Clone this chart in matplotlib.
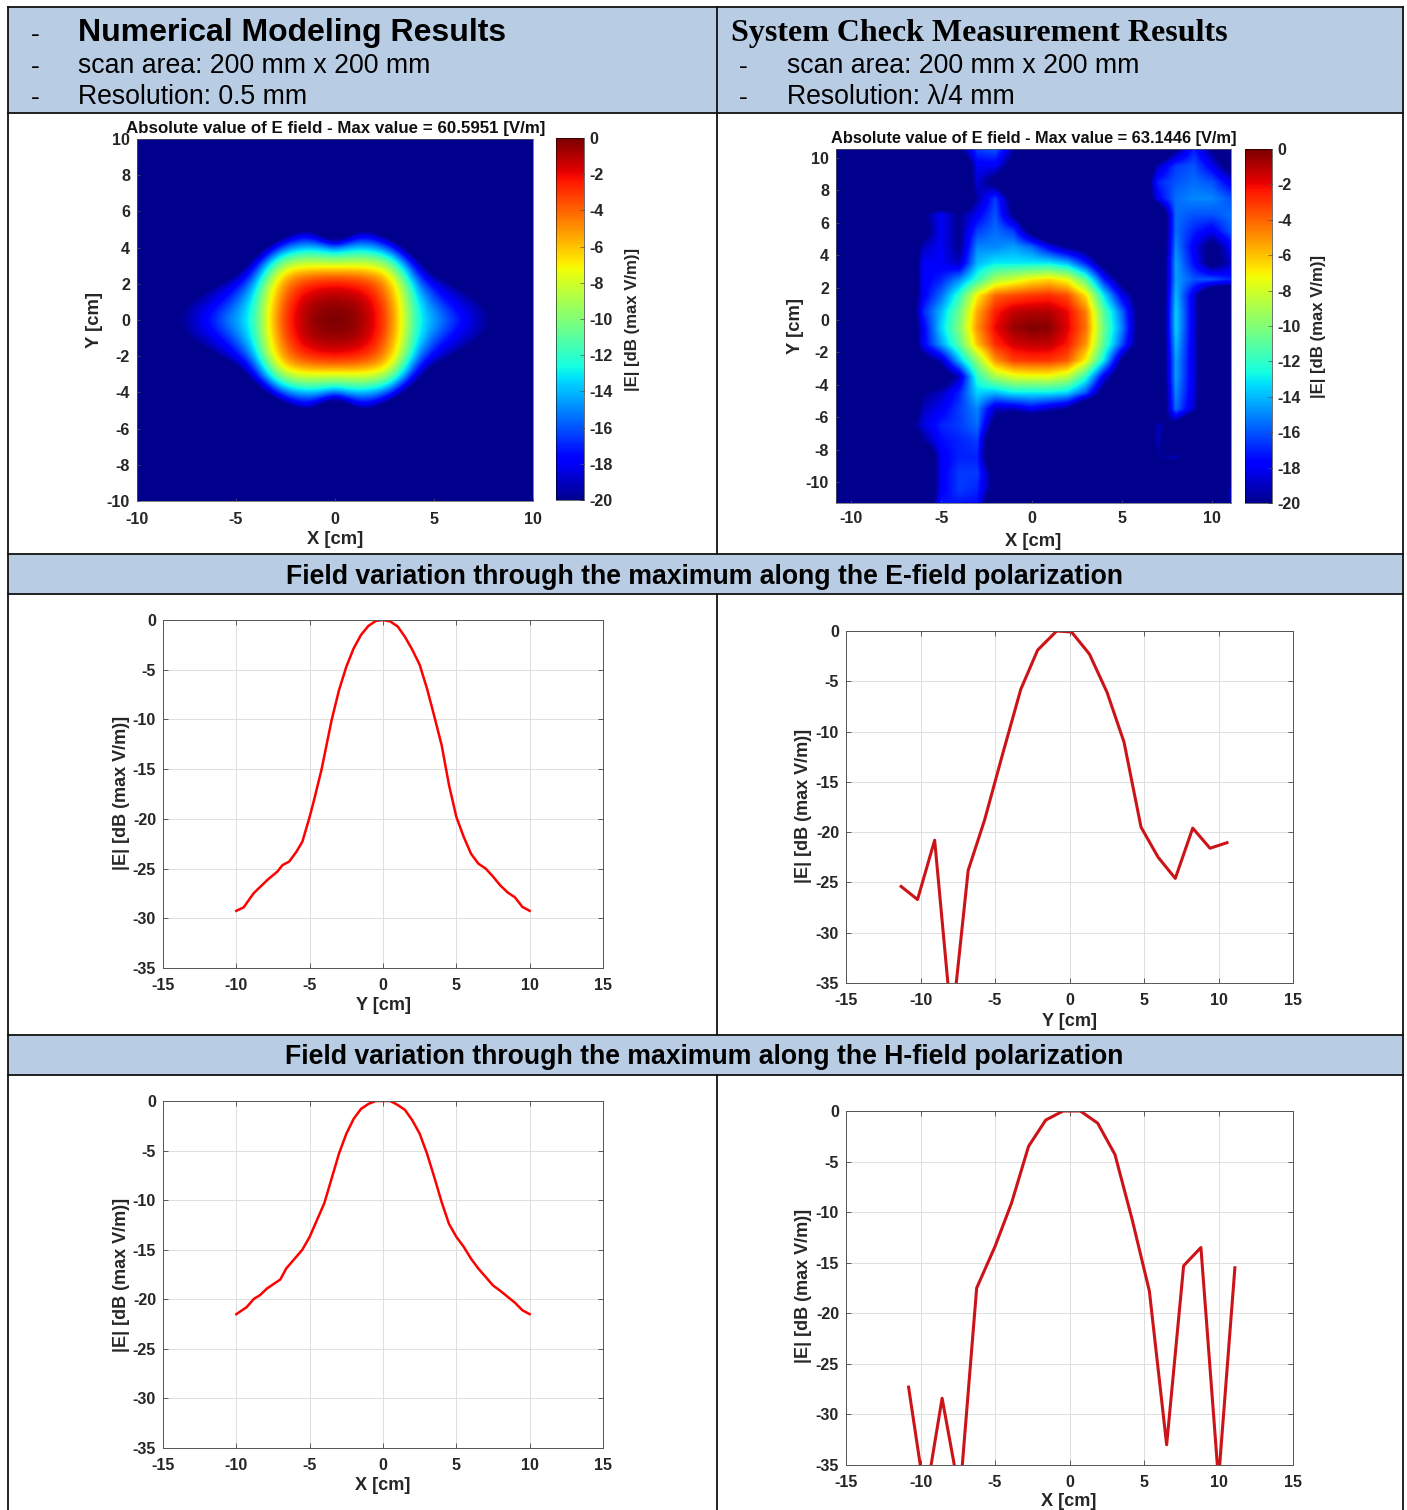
import numpy as np
import matplotlib
matplotlib.use('Agg')
from matplotlib import pyplot as plt
from matplotlib.colors import ListedColormap
from matplotlib.patches import Rectangle

W, H = 1407, 1510
plt.rcParams['font.family'] = ['Liberation Sans', 'DejaVu Sans']
plt.rcParams['axes.unicode_minus'] = False

# level under the colour scale
B = -24

# numerical map, one quadrant, 0.5 cm steps, x = 0..9 (rows padded with B), y = 0..5
model_quadrant = [
    [0, -.2, -.4, -1, -1.9, -3.2, -5.4, -8, -11.5, -13.3, -14.5, -15.5, -16.7, -17.6, -18.6, -19.4, -20, -22],
    [-.2, -.3, -.5, -1.1, -2, -3.3, -5.5, -8.1, -11.6, -13.5, -14.9, -16, -17.1, -18, -18.9, -19.7, -20.3, -23],
    [-.6, -.7, -.9, -1.4, -2.3, -3.7, -5.8, -8.5, -12, -14.1, -15.7, -16.9, -18, -18.8, -19.3, -20, -21.5],
    [-1.3, -1.4, -1.6, -2.1, -2.9, -4.3, -6.3, -9, -12.7, -15, -16.7, -18, -18.8, -19.5, -20.5, -23],
    [-2.4, -2.5, -2.7, -3.1, -3.8, -5, -7, -10, -13.8, -16.3, -18, -19, -20, -21.5],
    [-4.4, -4.4, -4.6, -4.9, -5.4, -6.4, -8.6, -12, -15.5, -18, -20, -21],
    [-7.5, -7.5, -7.5, -7.5, -7.9, -8.8, -11, -14, -17.3, -20, -22],
    [-11, -10.8, -10.5, -10.5, -11, -12, -14, -17, -20, -22],
    [-15.5, -14.5, -14, -14, -14.5, -15.5, -17.5, -20, -22],
    [-21, -19.5, -17.5, -17, -17.5, -19, -21, -23],
    [B, -23, -21, -20, -21, -23],
]

# measured map, 1 cm steps, x = -11..11, y = 10.5 .. -11.5
meas_map = [
    [B, B, B, B, B, B, B, -20.5, -16.5, -16, -19.5, B, B, B, B, B, B, B, B, -20, -17, -20, B],
    [B, B, B, B, B, B, B, B, -18, -18, -21, B, B, B, B, B, B, B, -19, -16.5, -16, -18, -21],
    [B, B, B, B, B, B, B, B, -18.5, -21, B, B, B, B, B, B, B, B, -17, -16, -15.5, -16, -18],
    [B, B, B, B, B, B, B, B, -19.5, -16.5, -21, B, B, B, B, B, B, B, -18, -15.5, -15, -15, -16],
    [B, B, B, B, B, -20, -18, -20, -18, -16, -20, B, B, B, B, B, B, B, B, -15.5, -16, -16, -15.5],
    [B, B, B, B, B, -21, -18, -20, -16.5, -15.5, -16.5, -21, B, B, B, B, B, B, B, -15.5, -17, -18, -16],
    [B, B, B, B, B, -19, -18, -20, -15, -15, -14.5, -15.5, -18, -20, -21, B, B, B, B, -15, -18, -21, -18],
    [B, B, B, B, B, -18, -18, -19, -14, -13, -13, -13, -13, -14, -17, -21, B, B, B, -14.5, -17.5, -21, -19],
    [B, B, B, B, B, -18, -17, -15, -12, -9, -8, -7, -6.5, -7.5, -11, -17, -21, B, B, -14.5, -16, -16, -17],
    [B, B, B, B, B, -18, -15.5, -12, -7, -4, -3.4, -3, -2.8, -3.5, -6.5, -13, -18, -21, B, -14, -18.5, B, B],
    [B, B, B, B, B, -17, -14, -10.5, -5.5, -2.5, -1.2, -1, -1, -2, -4.5, -11, -15.5, -21, B, -13.5, -18.5, B, B],
    [B, B, B, B, B, -18, -13.5, -10, -5, -2, -.6, -.1, -.3, -1.8, -4.2, -10.5, -15, -21, B, -13.5, -18.5, B, B],
    [B, B, B, B, B, -18, -14.5, -11, -6, -2.8, -1.6, -1.2, -1.3, -2.4, -5, -11, -16, -21, B, -14, -18.5, B, B],
    [B, B, B, B, B, -21, -19, -14, -9.5, -5, -3.2, -3, -3, -3.8, -7, -13, -20, B, B, -14.5, -18.5, B, B],
    [B, B, B, B, B, B, -22, -19, -12, -9, -7.8, -7.5, -7.5, -8.5, -12, -18, -22, B, B, -14.5, -18.5, B, B],
    [B, B, B, B, B, -20, -19, -17, -13.5, -14, -13, -13, -13, -13.5, -16, -21, B, B, B, -15, -18.5, B, B],
    [B, B, B, B, B, -19, -18, -16.5, -15, -19, -19, -18, -19, -20, B, B, B, B, B, -15.5, -19, B, B],
    [B, B, B, B, -21, -18.5, -17, -16.5, -15.5, -21, B, B, B, B, B, B, B, B, -19, -21, B, B, B],
    [B, B, B, B, B, -20, -17.5, -17, -16.5, B, B, B, B, B, B, B, B, B, -19, B, B, B, B],
    [B, B, B, B, B, B, -18, -17, -17, B, B, B, B, B, B, B, B, B, -20, -19, B, B, B],
    [B, B, B, B, B, B, -18, -16.5, -16.5, -21, B, -20, B, B, B, B, B, B, B, B, -20, B, B],
    [B, B, B, B, B, B, -18, -16.5, -17, -21, B, B, B, B, B, B, B, B, B, B, B, B, -19],
    [B, B, B, B, B, B, -17, -17.5, -17.5, B, B, B, B, B, B, B, B, B, B, B, B, B, -20],
]

# cuts through the maximum
model_e_x = [-10, -9.5, -9, -8.8, -7.85, -7.2, -6.85, -6.4, -5.9, -5.5, -5, -4.7, -4.2, -3.5, -3, -2.5, -2, -1.5, -1, -.5, 0,
             .5, 1, 1.5, 2, 2.5, 3, 3.5, 4, 4.5, 5, 5.5, 6, 6.5, 7, 7.5, 8, 8.5, 9, 9.5, 10]
model_e_y = [-29.25, -28.9, -27.85, -27.45, -26.1, -25.3, -24.65, -24.3, -23.3, -22.3, -19.8, -18.1, -15.1, -10.05, -7.05, -4.7, -2.85, -1.5, -.6, -.1, 0,
             -.15, -.65, -1.7, -3, -4.5, -6.9, -9.7, -12.6, -16.6, -19.8, -21.8, -23.5, -24.5, -25, -25.8, -26.7, -27.4, -27.9, -28.85, -29.25]

model_h_x = [-10, -9.7, -9.3, -8.8, -8.4, -7.9, -7.5, -7, -6.6, -5.5, -5, -4.5, -4, -3.5, -3, -2.5, -2, -1.5, -1, -.5, 0,
             .5, 1, 1.5, 2, 2.5, 3, 3.5, 4, 4.5, 5, 5.5, 6, 6.5, 7, 7.5, 8, 8.5, 9, 9.5, 10]
model_h_y = [-21.5, -21.2, -20.8, -19.95, -19.6, -18.9, -18.5, -18, -16.9, -15, -13.7, -12, -10.3, -7.8, -5.3, -3.3, -1.8, -.8, -.3, 0, 0,
             0, -.4, -.9, -1.95, -3.3, -5.3, -7.7, -10.2, -12.4, -13.7, -14.7, -15.9, -16.9, -17.75, -18.6, -19.15, -19.75, -20.35, -21.1, -21.5]

meas_e_x = [-11.3, -10.2, -9.05, -7.9, -6.8, -5.7, -4.5, -3.27, -2.14, -.86, .14, 1.34, 2.52, 3.66, 4.8, 5.95, 7.1, 8.27, 9.43, 10.57]
meas_e_y = [-25.4, -26.7, -20.8, -39.2, -23.8, -18.8, -12.3, -5.8, -1.9, 0, -.1, -2.3, -6.1, -11.05, -19.5, -22.5, -24.6, -19.6, -21.6, -21.05]

meas_h_x = [-10.8, -9.67, -8.55, -7.36, -6.23, -5.0, -3.89, -2.75, -1.6, -.43, .73, 1.89, 3.05, 4.2, 5.36, 6.52, 7.66, 8.82, 10, 11.1]
meas_h_y = [-27.3, -38.4, -28.4, -38, -17.5, -13.4, -9.1, -3.5, -.9, 0, 0, -1.2, -4.3, -10.7, -17.8, -33, -15.3, -13.5, -36.5, -15.5]

map_ticks = [-10, -5, 0, 5, 10]
map_yticks = [-10, -8, -6, -4, -2, 0, 2, 4, 6, 8, 10]
cbar_ticks = [0, -2, -4, -6, -8, -10, -12, -14, -16, -18, -20]
line_xticks = [-15, -10, -5, 0, 5, 10, 15]
line_yticks = [0, -5, -10, -15, -20, -25, -30, -35]
CB_LABEL = '|E| [dB (max V/m)]'
BAND = '#b8cce4'
INK = '#262626'
TS = 11.6
jet = ListedColormap(plt.get_cmap('jet')(np.linspace(0.012, 1, 256)))


def axes_px(fig, x0, y0, x1, y1):
    return fig.add_axes([x0 / W, 1 - y1 / H, (x1 - x0) / W, (y1 - y0) / H])


fig = plt.figure(figsize=(W / 100, H / 100), dpi=100)

# table background
bg = fig.add_axes([0, 0, 1, 1], zorder=-1)
bg.set_xlim(0, W)
bg.set_ylim(H, 0)
bg.axis('off')
for y0, y1 in [(7, 113), (554, 594), (1035, 1075)]:
    bg.add_patch(Rectangle((8, y0), 1395, y1 - y0, fc=BAND, ec='none'))
for y in [7, 113, 554, 594, 1035, 1075]:
    bg.plot([8, 1403], [y, y], color='#111111', lw=1.3)
for x, y0, y1 in [(8, 7, H), (1403, 7, H), (717, 7, 554), (717, 594, 1035), (717, 1075, H)]:
    bg.plot([x, x], [y0, y1], color='#111111', lw=1.3)

bg.text(31, 35, '-', fontsize=19, va='center', ha='left', color='black')
bg.text(31, 67, '-', fontsize=19, va='center', ha='left', color='black')
bg.text(31, 98, '-', fontsize=19, va='center', ha='left', color='black')
bg.text(78, 33, 'Numerical Modeling Results', fontsize=23, fontweight='bold', va='center', color='black')
bg.text(78, 66, 'scan area: 200 mm x 200 mm', fontsize=19.15, va='center', color='black')
bg.text(78, 97, 'Resolution: 0.5 mm', fontsize=19.15, va='center', color='black')
bg.text(731, 33, 'System Check Measurement Results', fontsize=23, fontweight='bold',
        family=['Liberation Serif', 'DejaVu Serif'], va='center', color='black')
bg.text(739, 67, '-', fontsize=19, va='center', color='black')
bg.text(739, 98, '-', fontsize=19, va='center', color='black')
bg.text(787, 66, 'scan area: 200 mm x 200 mm', fontsize=19.15, va='center', color='black')
bg.text(787, 97, 'Resolution: λ/4 mm', fontsize=19.15, va='center', color='black')
bg.text(704.5, 577, 'Field variation through the maximum along the E-field polarization',
        fontsize=19.2, fontweight='bold', ha='center', va='center', color='black')
bg.text(704.5, 1057, 'Field variation through the maximum along the H-field polarization',
        fontsize=19.2, fontweight='bold', ha='center', va='center', color='black')

# rebuild the numerical map from its quadrant
n_cols = 21
quad = np.full((21, n_cols), float(B))
for i, row in enumerate(model_quadrant):
    quad[i, :len(row)] = row
right_half = np.hstack([quad[:, :0:-1], quad])
model_map = np.vstack([right_half[:0:-1], right_half])


def heat_panel(z, interp, extent, xlim, ylim, rect, cbar_rect, title, title_size, title_xy, labels):
    ax = axes_px(fig, *rect)
    im = ax.imshow(z, extent=extent, origin='upper', cmap=jet, vmin=-20, vmax=0,
                   interpolation=interp, aspect='auto')
    ax.set_xlim(*xlim)
    ax.set_ylim(*ylim)
    ax.set_xticks(map_ticks)
    ax.set_yticks(map_yticks)
    ax.tick_params(axis='x', direction='in', length=2, width=0.5, color='#555555', labelsize=TS,
                   labelcolor=INK, pad=labels['pad'])
    ax.tick_params(axis='y', direction='in', length=2, width=0.5, color='#555555', labelsize=TS,
                   labelcolor=INK, pad=5)
    for t in ax.get_xticklabels() + ax.get_yticklabels():
        t.set_fontweight('bold')
    for s in ax.spines.values():
        s.set_linewidth(0.5)
        s.set_color('#555555')

    cax = axes_px(fig, *cbar_rect)
    cb = fig.colorbar(im, cax=cax)
    cb.set_ticks(cbar_ticks)
    cb.ax.tick_params(direction='in', length=3, width=0.5, color='#555555', labelsize=TS,
                      labelcolor=INK, pad=4)
    for t in cb.ax.get_yticklabels():
        t.set_fontweight('bold')
    cb.outline.set_linewidth(0.4)

    bg.text(title_xy[0], title_xy[1], title, fontsize=title_size, fontweight='bold', ha='center', va='center', color='#111111')
    bg.text(*labels['x'], 'X [cm]', fontsize=13.2, fontweight='bold', ha='center', va='center', color=INK)
    bg.text(*labels['y'], 'Y [cm]', fontsize=13.2, fontweight='bold', rotation=90, ha='center', va='center', color=INK)
    bg.text(*labels['c'], CB_LABEL, fontsize=12.1, fontweight='bold', rotation=90, ha='center', va='center', color=INK)


heat_panel(model_map, 'bicubic', (-10.25, 10.25, -10.25, 10.25), (-10, 10), (-10, 10),
           (137, 139, 533, 501), (556, 138, 584, 500),
           'Absolute value of E field - Max value = 60.5951 [V/m]', 12.15, (335.5, 128),
           {'x': (335, 540), 'y': (94.5, 320), 'c': (633, 319), 'pad': 8})

heat_panel(meas_map, 'bilinear', (-11.5, 11.5, -12, 11), (-10.83, 11.05), (-11.3, 10.55),
           (836, 149, 1231, 503), (1245, 149, 1272, 503),
           'Absolute value of E field - Max value = 63.1446 [V/m]', 11.8, (1034, 139),
           {'x': (1033, 541), 'y': (795, 326), 'c': (1319, 326), 'pad': 6})


def line_panel(x, y, rect, color, lw, xlabel, xlab_xy, ylab_xy):
    ax = axes_px(fig, *rect)
    ax.plot(x, y, color=color, lw=lw, solid_joinstyle='round')
    ax.set_xlim(-15, 15)
    ax.set_ylim(-35, 0)
    ax.set_xticks(line_xticks)
    ax.set_yticks(line_yticks)
    ax.grid(True, color='#dfdfdf', lw=0.7)
    ax.set_axisbelow(True)
    ax.tick_params(axis='x', direction='in', length=3.5, width=0.6, color='#444444', top=True,
                   labelsize=TS, labelcolor=INK, pad=7)
    ax.tick_params(axis='y', direction='in', length=3.5, width=0.6, color='#444444', right=True,
                   labelsize=TS, labelcolor=INK, pad=5)
    for t in ax.get_xticklabels() + ax.get_yticklabels():
        t.set_fontweight('bold')
    for s in ax.spines.values():
        s.set_linewidth(0.7)
        s.set_color('#555555')
    bg.text(*xlab_xy, xlabel, fontsize=13.1, fontweight='bold', ha='center', va='center', color=INK)
    bg.text(*ylab_xy, CB_LABEL, fontsize=13, fontweight='bold', rotation=90, ha='center', va='center', color=INK)


line_panel(model_e_x, model_e_y, (163, 620, 603, 968), '#ff0000', 1.8, 'Y [cm]', (383, 1005), (122, 793))
line_panel(meas_e_x, meas_e_y, (846, 631, 1293, 983), '#cc1418', 2.2, 'Y [cm]', (1069, 1021), (804, 806))
line_panel(model_h_x, model_h_y, (163, 1101, 603, 1448), '#ff0000', 1.8, 'X [cm]', (383, 1485), (122, 1275))
line_panel(meas_h_x, meas_h_y, (846, 1111, 1293, 1465), '#cc1418', 2.2, 'X [cm]', (1069, 1502), (804, 1286))

fig.savefig('out.png', dpi=100)
